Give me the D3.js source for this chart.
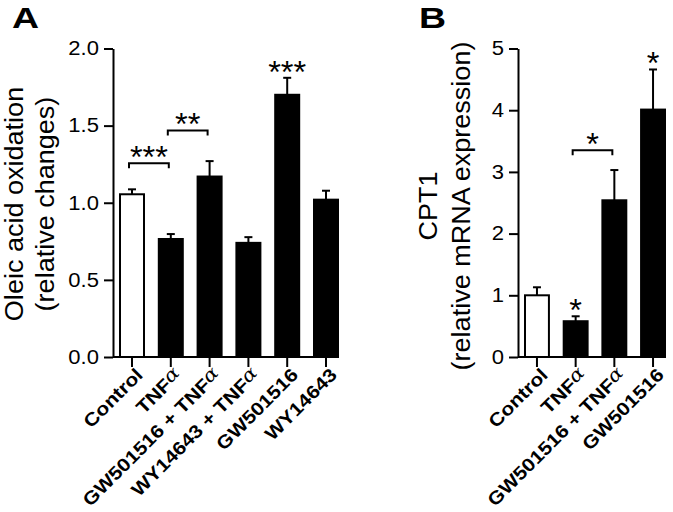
<!DOCTYPE html>
<html><head><meta charset="utf-8">
<script src="https://cdn.jsdelivr.net/npm/d3@7"></script>
<style>body{margin:0;background:#fff}svg{display:block}</style>
</head><body><svg id="c" width="673" height="512"></svg>
<script>
// ---- Data ----
const categoriesA = ["Control", "TNFα", "GW501516 + TNFα", "WY14643 + TNFα", "GW501516", "WY14643"];
const valuesA = [1.055, 0.765, 1.17, 0.74, 1.70, 1.02];
const errorsA = [0.032, 0.032, 0.10, 0.037, 0.11, 0.058];
const ticksA = [0, 0.5, 1.0, 1.5, 2.0];
const bracketsA = [
  {from: "Control", to: "TNFα", y: 1.256, label: "***"},
  {from: "TNFα", to: "GW501516 + TNFα", y: 1.469, label: "**"}
];
const barStarsA = [{cat: "GW501516", label: "***"}];

const categoriesB = ["Control", "TNFα", "GW501516 + TNFα", "GW501516"];
const valuesB = [1.0, 0.58, 2.54, 4.01];
const errorsB = [0.13, 0.08, 0.49, 0.65];
const ticksB = [0, 1, 2, 3, 4, 5];
const bracketsB = [{from: "TNFα", to: "GW501516 + TNFα", y: 3.35, label: "*"}];
const barStarsB = [{cat: "TNFα", label: "*"}, {cat: "GW501516", label: "*"}];

// ---- Drawing ----
const svg = d3.select("#c");
const FONT = "'Liberation Sans', Arial, Helvetica, sans-serif";
const SW = 2;

function stext(g, x, y, angle, sx, str, opts = {}) {
  const t = g.append("text")
    .attr("transform", `translate(${x},${y}) rotate(${angle}) scale(${sx},1)`)
    .attr("font-family", FONT)
    .attr("font-size", opts.size || 20)
    .attr("font-weight", opts.weight || "normal")
    .attr("text-anchor", opts.anchor || "start")
    .attr("fill", "#000");
  if (opts.alpha) {
    const base = str.replace("α", "");
    t.append("tspan").text(base);
    t.append("tspan").attr("font-weight", "normal").attr("font-family", "'DejaVu Serif', serif")
      .attr("font-style", "italic").attr("dy", -3).text("α");
  } else t.text(str);
  return t;
}

function panel(cfg) {
  const g = svg.append("g");
  const y = d3.scaleLinear().domain(cfg.domain).range([357, 48.5]);
  const x = d3.scaleBand().domain(cfg.cats).range(cfg.xr).paddingInner(0.33).paddingOuter(0);
  const bw = x.bandwidth();
  const cx = c => x(c) + bw / 2;

  // y axis
  const ya = g.append("g").attr("transform", `translate(${cfg.ax},0)`)
    .call(d3.axisLeft(y).tickValues(cfg.ticks).tickFormat(cfg.fmt).tickSize(9).tickSizeOuter(0).tickPadding(5));
  ya.selectAll("path,line").attr("stroke", "#000").attr("stroke-width", SW);
  ya.selectAll("text").attr("font-family", FONT).attr("font-size", 19.5).attr("fill", "#000")
    .attr("x", -14 / 1.13).attr("transform", "scale(1.13,1)");

  // x axis line
  g.append("line").attr("x1", cfg.ax).attr("x2", cfg.xr[1]).attr("y1", y(0)).attr("y2", y(0))
    .attr("stroke", "#000").attr("stroke-width", SW);
  const xa = g.append("g").attr("transform", `translate(0,${y(0)})`)
    .call(d3.axisBottom(x).tickSize(10).tickSizeOuter(0).tickFormat(""));
  xa.select(".domain").remove();
  xa.selectAll("line").attr("stroke", "#000").attr("stroke-width", SW);

  // bars
  g.selectAll("rect.bar").data(cfg.cats).enter().append("rect")
    .attr("x", c => x(c) + SW / 2).attr("width", bw - SW)
    .attr("y", (c, i) => y(cfg.vals[i]))
    .attr("height", (c, i) => y(0) - y(cfg.vals[i]))
    .attr("fill", (c, i) => i === 0 ? "#fff" : "#000")
    .attr("stroke", "#000").attr("stroke-width", SW);

  // error bars
  cfg.cats.forEach((c, i) => {
    const top = y(cfg.vals[i] + cfg.errs[i]);
    g.append("line").attr("x1", cx(c)).attr("x2", cx(c)).attr("y1", y(cfg.vals[i])).attr("y2", top)
      .attr("stroke", "#000").attr("stroke-width", SW);
    g.append("line").attr("x1", cx(c) - 4).attr("x2", cx(c) + 4).attr("y1", top).attr("y2", top)
      .attr("stroke", "#000").attr("stroke-width", SW);
  });

  // brackets
  cfg.brackets.forEach(b => {
    const yy = y(b.y), x1 = cx(b.from) - 3, x2 = cx(b.to) - 2;
    g.append("path").attr("d", `M${x1},${yy + 5}V${yy}H${x2}V${yy + 5}`)
      .attr("fill", "none").attr("stroke", "#000").attr("stroke-width", SW);
    stext(g, (x1 + x2) / 2, yy - 12 + 17, 0, 1.05, b.label, {size: 31, anchor: "middle"});
  });
  cfg.stars.forEach(s => {
    const i = cfg.cats.indexOf(s.cat);
    const top = y(cfg.vals[i] + cfg.errs[i]);
    stext(g, cx(s.cat), top - 12 + 17, 0, 1.05, s.label, {size: 31, anchor: "middle"});
  });

  // x labels
  cfg.cats.forEach(c => {
    stext(g, cx(c) + 12, 376, -45, 1.14, c, {size: 18.5, weight: "bold", anchor: "end", alpha: c.includes("α")});
  });

  // y label
  stext(g, cfg.yl[0], cfg.ylc, -90, 1.06, cfg.ytitle[0], {size: 25.5, anchor: "middle"});
  stext(g, cfg.yl[1], cfg.ylc, -90, 1.06, cfg.ytitle[1], {size: 25.5, anchor: "middle"});

  // panel letter
  stext(g, cfg.letter[1], 28, 0, 1.27, cfg.letter[0], {size: 29.5, weight: "bold"});
}

panel({
  cats: categoriesA, vals: valuesA, errs: errorsA, ticks: ticksA, domain: [0, 2.0],
  fmt: d3.format(".1f"), ax: 113, xr: [119, 339],
  brackets: bracketsA, stars: barStarsA,
  ytitle: ["Oleic acid oxidation", "(relative changes)"], yl: [22.5, 53.5], ylc: 204,
  letter: ["A", 12]
});
panel({
  cats: categoriesB, vals: valuesB, errs: errorsB, ticks: ticksB, domain: [0, 5],
  fmt: d3.format("d"), ax: 518, xr: [524, 666],
  brackets: bracketsB, stars: barStarsB,
  ytitle: ["CPT1", "(relative mRNA expression)"], yl: [437, 470], ylc: 206,
  letter: ["B", 419]
});
</script></body></html>
